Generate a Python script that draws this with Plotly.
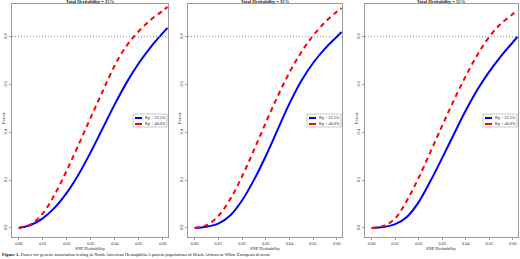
import plotly.graph_objects as go

# ---- data ----
snp_h2 = [0.0, 0.005, 0.01, 0.015, 0.02, 0.025, 0.03, 0.035, 0.04, 0.045, 0.05, 0.055, 0.06, 0.062]

panel_titles = ["Total Heritability = 15%", "Total Heritability = 35%", "Total Heritability = 55%"]
series_names = ["Kp = 22.5%", "Kp = 40.0%"]

power_15_kp225 = [0.0, 0.012, 0.04, 0.085, 0.147, 0.225, 0.317, 0.417, 0.517, 0.609, 0.689, 0.757, 0.815, 0.837]
power_15_kp400 = [0.0, 0.015, 0.06, 0.14, 0.24, 0.35, 0.462, 0.572, 0.68, 0.763, 0.823, 0.871, 0.909, 0.925]
power_35_kp225 = [0.0, 0.005, 0.018, 0.052, 0.115, 0.2, 0.30, 0.41, 0.52, 0.615, 0.69, 0.75, 0.80, 0.82]
power_35_kp400 = [0.0, 0.012, 0.05, 0.12, 0.215, 0.325, 0.44, 0.55, 0.65, 0.735, 0.805, 0.86, 0.905, 0.92]
power_55_kp225 = [0.0, 0.004, 0.016, 0.046, 0.108, 0.196, 0.293, 0.393, 0.491, 0.579, 0.654, 0.719, 0.777, 0.80]
power_55_kp400 = [0.0, 0.008, 0.04, 0.115, 0.21, 0.318, 0.428, 0.535, 0.635, 0.725, 0.80, 0.855, 0.895, 0.912]

x_ticks = [0.0, 0.01, 0.02, 0.03, 0.04, 0.05, 0.06]
y_ticks = [0.0, 0.2, 0.4, 0.6, 0.8]
threshold = 0.8

caption = ("<b>Figure 1.</b> Power for genetic association testing in North American Hemophilia A "
           "patient populations of Black African or White European descent.")

panels = [
    (power_15_kp225, power_15_kp400),
    (power_35_kp225, power_35_kp400),
    (power_55_kp225, power_55_kp400),
]

# ---- layout ----
W, H = 520, 259
FONT = "Liberation Serif"
BLUE, RED = "#0000FF", "#FF0000"
AXC = "#9a9a9a"

px_domains = [(12, 168), (188, 342), (365, 518)]
top_px, bot_px = 4, 237
ydom = [1 - bot_px / H, 1 - top_px / H]

fig = go.Figure()
annotations = []
shapes = []

for i, ((blue, red), title, (x0, x1)) in enumerate(zip(panels, panel_titles, px_domains)):
    n = "" if i == 0 else str(i + 1)
    xa, ya = "x" + n, "y" + n
    fig.add_trace(go.Scatter(x=snp_h2, y=blue, mode="lines", name=series_names[0],
                             line=dict(color=BLUE, width=2, shape="spline"),
                             xaxis=xa, yaxis=ya, showlegend=False))
    fig.add_trace(go.Scatter(x=snp_h2, y=red, mode="lines", name=series_names[1],
                             line=dict(color=RED, width=2, dash="5px,4px", shape="spline"),
                             xaxis=xa, yaxis=ya, showlegend=False))
    common = dict(showline=True, linecolor=AXC, linewidth=1, mirror=True, showgrid=False,
                  zeroline=False, ticks="outside", ticklen=2, tickcolor=AXC, tickwidth=1,
                  tickfont=dict(family=FONT, size=4.3, color="#333"))
    fig.update_layout(**{
        "xaxis" + n: dict(domain=[x0 / W, x1 / W], range=[-0.0028, 0.0622],
                          tickvals=x_ticks, tickformat=".2f", anchor=ya, **common),
        "yaxis" + n: dict(domain=ydom, range=[-0.038, 0.937], tickvals=y_ticks,
                          tickformat=".1f", tickangle=-90, anchor=xa, **common),
    })
    # threshold line
    shapes.append(dict(type="line", xref=xa + " domain", yref=ya, x0=0, x1=1,
                       y0=threshold, y1=threshold, line=dict(color="#8a8a8a", width=1, dash="1px,2px")))
    # titles
    cx = (x0 + x1) / 2 / W
    annotations.append(dict(text="<b>" + title + "</b>", x=cx, y=1 - 1.5 / H, xref="paper", yref="paper",
                            showarrow=False, font=dict(family=FONT, size=4.6, color="#222"),
                            xanchor="center", yanchor="middle"))
    annotations.append(dict(text="SNP Heritability", x=cx, y=1 - 248.2 / H, xref="paper", yref="paper",
                            showarrow=False, font=dict(family=FONT, size=4.5, color="#222"),
                            xanchor="center", yanchor="middle"))
    annotations.append(dict(text="Power", x=(x0 - 9) / W, y=1 - 118 / H, xref="paper", yref="paper",
                            showarrow=False, textangle=-90, font=dict(family=FONT, size=4.6, color="#222"),
                            xanchor="center", yanchor="middle"))
    # legend box (per panel)
    pw = x1 - x0
    lx0, lx1 = (pw - 35) / pw, (pw - 1) / pw
    ph = bot_px - top_px
    ly_top, ly_bot = (bot_px - 114) / ph, (bot_px - 127) / ph
    shapes.append(dict(type="rect", xref=xa + " domain", yref=ya + " domain", x0=lx0, x1=lx1,
                       y0=ly_bot, y1=ly_top, line=dict(color="#bbbbbb", width=0.8), fillcolor="white"))
    for k, (nm, col, yy) in enumerate([(series_names[0], BLUE, 118), (series_names[1], RED, 124)]):
        yd = (bot_px - yy) / ph
        shapes.append(dict(type="line", xref=xa + " domain", yref=ya + " domain",
                           x0=lx0 + 2 / pw, x1=lx0 + 9 / pw, y0=yd, y1=yd,
                           line=dict(color=col, width=2)))
        annotations.append(dict(text=nm, x=lx0 + 10 / pw, y=yd, xref=xa + " domain", yref=ya + " domain",
                                showarrow=False, xanchor="left", yanchor="middle",
                                font=dict(family=FONT, size=4.2, color="#222")))

annotations.append(dict(text=caption, x=0, y=1 - 254.8 / H, xref="paper", yref="paper", showarrow=False,
                        xanchor="left", yanchor="middle", font=dict(family=FONT, size=4.6, color="#111")))

fig.update_layout(width=W, height=H, margin=dict(l=0, r=0, t=0, b=0),
                  paper_bgcolor="white", plot_bgcolor="white",
                  annotations=annotations, shapes=shapes, showlegend=False)

fig.write_html("out.html", config={"displayModeBar": False},
               post_script="document.body.style.margin='0';document.body.style.overflow='hidden';")
